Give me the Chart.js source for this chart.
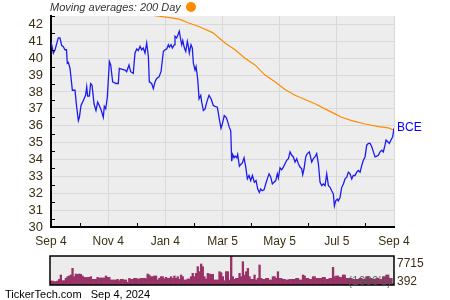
<!DOCTYPE html>
<html>
<head>
<meta charset="utf-8">
<script src="https://cdn.jsdelivr.net/npm/chart.js@4.4.1/dist/chart.umd.min.js"></script>
<style>
body { margin: 0; background: #fff; font-family: "Liberation Sans", Arial, sans-serif; }
#wrap { position: relative; width: 450px; height: 300px; overflow: hidden; }
#price { position: absolute; left: 0; top: 0; }
#vol { position: absolute; left: 0; top: 250px; }
.txt { position: absolute; white-space: nowrap; line-height: 1; }
</style>
</head>
<body>
<div id="wrap">
  <canvas id="price" width="450" height="250"></canvas>
  <canvas id="vol" width="450" height="40"></canvas>
  <div class="txt" style="left:50px;top:2px;font-size:11px;font-style:italic;color:#333">Moving averages: 200 Day</div>
  <div style="position:absolute;left:186px;top:2px;width:10px;height:10px;border-radius:50%;background:#ff8c00"></div>
  <div class="txt" id="volHigh" style="left:397px;top:257px;font-size:12px;color:#3c3014"></div>
  <div class="txt" id="volLow" style="left:397px;top:275px;font-size:12px;color:#3c3014"></div>
  <div class="txt" style="left:348px;top:275px;font-size:12px;color:rgba(60,100,85,0.85)">(1000's)</div>
  <div class="txt" style="left:5px;top:289px;font-size:11px;color:#000">TickerTech.com&nbsp;&nbsp;&nbsp;Sep 4, 2024</div>
</div>
<script>
// days since Sep 4 2023
let majorDays = [0, 61, 122, 183, 244, 305, 366];
let majorLabels = ["Sep 4", "Nov 4", "Jan 4", "Mar 5", "May 5", "Jul 5", "Sep 4"];

let closeDays = [
  0,2.5,4.3,7.8,9.6,11.4,13,14.9,16.5,17.4,
  18.5,20.3,22.8,25.6,27.4,29.2,30.3,32,34.5,36.9,
  38.1,39.1,40.9,42.3,43.8,45.9,48,49.8,52.3,53.4,
  55.8,56.9,58.4,60.1,62.3,63.7,65.8,69.4,71.8,72.9,
  75.4,79,80.7,83.2,85,87.8,89.6,91.5,93.2,95,
  96.8,98.5,100.3,102.1,103.9,104.9,107.4,109.2,111,112.8,
  115.3,117.4,119.9,121.7,123.5,125.2,126.3,128.1,129.5,131.6,
  132.3,134.1,135.9,136.9,138.4,139.5,140.6,142.3,143.8,145.5,
  146.6,147.6,149.4,150.8,151.9,153.7,154.8,156.5,158,159.8,
  160.8,162.6,164.4,166.2,168.6,170.8,173.2,175,177.5,179.3,
  181.4,182.8,184.9,186.8,188.2,190.3,191.8,192.8,193.9,195.3,
  196.4,198.2,199.2,201,202.4,204.2,206,207.8,209.5,211.3,
  213.1,214.9,217,218.8,220.6,222.3,223.8,225.5,227.3,229.1,
  230.8,232.7,234.5,236.2,238,239.8,241.5,242.6,244.4,246.2,
  247.9,249.7,251.5,253.3,255.1,256.9,258.6,260.4,262.2,263.9,
  265.7,267.5,268.6,270,271.8,273.5,275.7,278.2,279.9,281.7,
  283.5,285.3,287.1,288.9,290.6,292.4,294.2,296,297.8,299.5,
  301.3,302.4,303.8,305.6,306.6,308.4,310.2,312,313.8,315.6,
  317.3,319.1,320.9,322.6,324.4,326.2,328,329.8,331.6,333.3,
  335.1,336.9,338.7,340.5,342.3,344,345.8,347.6,349.3,351.1,
  352.9,354.6,356.4,357.5,359.3,361,362.8,364.6,366
];
let closeValues = [
  41.0,40.3,40.5,41.2,41.2,40.75,40.7,40.5,40.5,39.7,
  39.75,39.4,38.1,38.1,37.1,36.3,36.5,37.2,37.5,37.8,
  38.3,37.75,37.75,38.5,38.4,37.3,36.9,37.4,37.1,36.95,
  36.5,37.15,37.0,37.7,39.8,39.6,38.6,38.5,38.5,39.4,
  39.35,39.3,39.2,39.6,39.2,39.1,40.3,40.55,40.45,40.7,
  40.5,40.6,40.3,40.9,40.1,38.6,38.5,38.2,38.6,38.8,
  38.9,39.2,40.4,40.5,40.55,40.8,40.65,40.8,40.6,40.8,
  41.3,41.2,41.45,41.6,41.1,40.8,41.05,40.6,40.4,41.0,
  40.7,40.3,40.8,40.6,39.7,39.3,39.5,38.8,37.6,37.8,
  37.4,36.9,37.0,37.4,37.8,37.6,37.2,37.15,37.1,36.5,
  35.85,36.1,36.6,36.5,36.3,35.9,35.7,33.9,34.3,34.1,
  34.2,34.1,34.3,33.6,33.7,33.8,34.1,33.55,32.85,33.05,
  32.75,33.05,32.65,32.75,32.25,32.05,32.25,32.15,32.2,32.55,
  32.85,33.15,32.95,32.55,32.65,32.75,33.15,32.9,33.5,33.4,
  33.55,33.75,33.95,34.05,34.45,34.25,34.15,33.85,34.05,33.75,
  33.55,33.45,33.1,33.45,34.15,34.35,34.45,33.85,34.05,34.15,
  34.35,33.75,32.65,32.45,32.55,32.45,33.15,32.45,32.35,32.15,
  31.95,31.25,31.55,31.65,31.55,31.75,32.35,32.55,32.85,32.95,
  33.25,33.15,32.85,33.05,33.05,33.25,33.35,33.25,33.65,33.95,
  34.15,34.85,34.95,34.95,34.75,34.45,34.15,34.2,34.25,34.45,
  34.55,34.45,34.85,35.15,35.05,34.95,35.15,35.35,35.85
];

let ma200Days = [107.5,116.3,127,137.7,146.2,159,172.9,185.7,196.4,207,217.7,228.4,239,
  249.7,260.4,271,281.7,292.4,303,310.2,320.9,335.1,349.3,360,366];
let ma200Values = [42.55,42.48,42.4,42.3,42.1,41.85,41.5,40.9,40.5,40.0,39.6,39.0,38.6,
  38.15,37.8,37.55,37.3,37.0,36.7,36.5,36.3,36.1,35.95,35.87,35.73];

// daily volume, thousands of shares
let volumeK = [
  1060,1060,890,890,1060,1500,2660,1150,1150,1770,
  2220,2400,2660,4430,2220,2930,2840,2930,2840,2400,
  2040,1950,2040,2040,2220,1510,1510,1510,2040,1860,
  1860,1860,1860,2400,2040,2040,1330,1330,1330,1330,
  1510,1150,1510,1510,1330,1330,710,1770,1510,1510,
  1770,1770,1600,1600,1770,1770,1770,1690,2930,2660,
  2220,2220,2400,2400,1330,1770,2220,2220,1690,2040,
  1770,1770,2220,1770,2400,1770,2220,1510,2660,2220,
  1330,1330,1600,1600,2220,3100,2220,3100,4880,3550,
  5590,4880,2220,1600,3100,2930,2840,2840,1330,1330,
  1330,3550,3280,2220,1150,3550,3550,1330,
  7715,2220,1510,1770,1770,3100,2220,6210,2660,3550,
  4430,2220,1510,1510,2660,1330,1770,5320,1770,1510,
  1510,1770,1770,1330,1330,2220,2220,1770,3550,1770,
  1770,1510,1510,1330,1330,1510,1510,1510,1510,1770,
  1770,1330,1330,2660,2400,1770,1770,1510,1510,2220,
  2220,1770,1770,1770,1770,2040,2040,1510,1510,1770,
  1770,4700,2220,2400,2400,2040,2040,2660,2660,1770,
  1770,1770,1770,1510,1510,1510,1510,1770,1770,1510,
  1510,2220,2220,1770,1770,1510,1510,1770,1770,1510,
  1510,2220,2220,2660,2660,1770,1770,392
];

const font = "'Liberation Sans', Arial, sans-serif";
const labelColor = "#3c3014";
const gridColor = "#d9d9d9";

let xTicks = [];
for (let i = 0; i < majorDays.length; i++) {
    xTicks.push(majorDays[i]);
    if (i < majorDays.length - 1) xTicks.push((majorDays[i] + majorDays[i + 1]) / 2);
}

const priceDecor = {
    id: "priceDecor",
    beforeDraw(chart) {
        const { ctx, chartArea: a } = chart;
        ctx.save();
        ctx.fillStyle = "#ededed";
        ctx.fillRect(a.left, a.top, a.right - a.left, a.bottom - a.top);
        ctx.restore();
    },
    afterDraw(chart) {
        const { ctx, chartArea: a, scales } = chart;
        ctx.save();
        ctx.strokeStyle = "#000";
        ctx.lineWidth = 1;
        ctx.beginPath();
        xTicks.forEach(d => {
            if (majorDays.includes(d)) return;
            const px = Math.round(scales.x.getPixelForValue(d)) + 0.5;
            ctx.moveTo(px, a.bottom);
            ctx.lineTo(px, a.bottom - 4);
        });
        for (let v = 30.5; v < 42.6; v += 1) {
            const py = Math.round(scales.y.getPixelForValue(v)) + 0.5;
            ctx.moveTo(a.left, py);
            ctx.lineTo(a.left + 4, py);
        }
        ctx.stroke();
        // ticker label at the last close
        const last = closeValues[closeValues.length - 1];
        ctx.fillStyle = "#0000ff";
        ctx.font = "12px " + font;
        ctx.textBaseline = "middle";
        ctx.fillText("BCE", a.right + 3, scales.y.getPixelForValue(last) - 1);
        ctx.restore();
    }
};

new Chart(document.getElementById("price"), {
    type: "line",
    data: {
        datasets: [
            {
                label: "BCE",
                data: closeDays.map((d, i) => ({ x: d, y: closeValues[i] })),
                borderColor: "#1c1cf0",
                borderWidth: 1.3,
                pointRadius: 0,
                tension: 0
            },
            {
                label: "200 Day",
                data: ma200Days.map((d, i) => ({ x: d, y: ma200Values[i] })),
                borderColor: "#ff8c00",
                borderWidth: 1.2,
                pointRadius: 0,
                tension: 0
            }
        ]
    },
    options: {
        responsive: false,
        animation: false,
        layout: { padding: { top: 16, right: 56, left: 0, bottom: 0 } },
        plugins: { legend: { display: false }, tooltip: { enabled: false } },
        scales: {
            x: {
                type: "linear",
                min: 0,
                max: 366,
                afterBuildTicks: s => { s.ticks = xTicks.map(v => ({ value: v })); },
                afterFit: s => { s.height = 23; },
                grid: {
                    color: c => (c.tick && majorDays.includes(c.tick.value)) ? gridColor : "rgba(0,0,0,0)",
                    drawTicks: false
                },
                border: { color: "#000", width: 2 },
                ticks: {
                    autoSkip: false,
                    maxRotation: 0,
                    padding: 7,
                    color: labelColor,
                    font: { family: font, size: 12 },
                    callback: v => {
                        let k = majorDays.indexOf(v);
                        return k >= 0 ? majorLabels[k] : "";
                    }
                }
            },
            y: {
                min: 30,
                max: 42.5,
                afterFit: s => { s.width = 51; },
                grid: {
                    color: c => (c.tick && Number.isInteger(c.tick.value)) ? gridColor : "rgba(0,0,0,0)",
                    drawTicks: false
                },
                border: { color: "#000", width: 2 },
                ticks: {
                    stepSize: 0.5,
                    autoSkip: false,
                    padding: 8,
                    color: labelColor,
                    font: { family: font, size: 13 },
                    callback: v => Number.isInteger(v) ? v : ""
                }
            }
        }
    },
    plugins: [priceDecor]
});

let volMax = Math.max(...volumeK);
let volMin = Math.min(...volumeK);
document.getElementById("volHigh").textContent = volMax;
document.getElementById("volLow").textContent = volMin;

const volDecor = {
    id: "volDecor",
    beforeDraw(chart) {
        const { ctx, chartArea: a } = chart;
        ctx.save();
        ctx.fillStyle = "#ececec";
        ctx.fillRect(a.left, a.top, a.right - a.left, a.bottom - a.top);
        ctx.restore();
    },
    afterDraw(chart) {
        const { ctx, chartArea: a } = chart;
        ctx.save();
        ctx.strokeStyle = "#000";
        ctx.lineWidth = 1.5;
        ctx.strokeRect(a.left, a.top, a.right - a.left, a.bottom - a.top);
        ctx.restore();
    }
};

new Chart(document.getElementById("vol"), {
    type: "bar",
    data: {
        labels: volumeK.map((_, i) => i),
        datasets: [{
            data: volumeK,
            backgroundColor: "#993366",
            borderWidth: 0,
            barPercentage: 1,
            categoryPercentage: 1
        }]
    },
    options: {
        responsive: false,
        animation: false,
        layout: { padding: { left: 50, right: 56, top: 6, bottom: 5 } },
        plugins: { legend: { display: false }, tooltip: { enabled: false } },
        scales: {
            x: { display: false },
            y: { display: false, min: 0, max: volMax }
        }
    },
    plugins: [volDecor]
});
</script>
</body>
</html>
